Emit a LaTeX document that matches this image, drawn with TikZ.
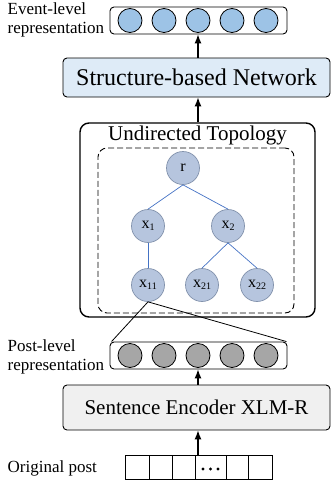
\documentclass[tikz,border=0pt]{standalone}
\usepackage{fontspec}
\setmainfont{Liberation Serif}
\usetikzlibrary{arrows.meta}
\definecolor{evfill}{RGB}{157,195,230}
\definecolor{postfill}{RGB}{166,166,166}
\definecolor{netfill}{RGB}{222,235,247}
\definecolor{encfill}{RGB}{240,240,240}
\definecolor{treefill}{RGB}{182,197,222}
\definecolor{treedraw}{RGB}{130,146,172}
\definecolor{edgeblue}{RGB}{68,114,196}
\tikzset{
  vecbox/.style={draw, rounded corners=4pt, line width=0.9pt},
  evcirc/.style={circle, draw, line width=0.8pt, fill=evfill, minimum size=24pt, inner sep=0pt},
  postcirc/.style={circle, draw, line width=0.8pt, fill=postfill, minimum size=24pt, inner sep=0pt},
  bigbox/.style={draw, rounded corners=4pt, line width=0.9pt, inner sep=0pt},
  treenode/.style={circle, draw=treedraw, line width=0.7pt, fill=treefill, minimum size=33pt, inner sep=0pt, font=\fontsize{16}{16}\selectfont},
  treeedge/.style={draw=edgeblue, line width=0.7pt},
  upar/.style={-{Latex[length=9pt,width=7pt]}, line width=1.1pt},
  lbl/.style={font=\fontsize{17}{19.5}\selectfont, align=left, inner sep=0pt, anchor=west},
  cell/.style={draw, line width=0.8pt}
}
\newcommand{\xsub}[1]{x\raisebox{-2.5pt}{\fontsize{10}{10}\selectfont #1}}
\begin{document}
\begin{tikzpicture}[x=1pt, y=-1pt]
\useasboundingbox (0,0) rectangle (331,485);

% Event-level representation
\node[vecbox, minimum width=177pt, minimum height=27pt, inner sep=0pt] (evbox) at (198.5,20.5) {};
\foreach \i/\xx in {1/130,2/164,3/198,4/232,5/266}
  \node[evcirc] (ev\i) at (\xx,20.5) {};
\node[lbl] (evlbl) at (7.5,20) {Event-level\\representation};

% Structure-based Network
\node[bigbox, fill=netfill, minimum width=267pt, minimum height=39pt, font=\fontsize{24}{24}\selectfont] (net) at (196.5,77.5) {Structure-based Network};
\draw[upar] (net.north -| ev3) -- (evbox.south -| ev3);

% Undirected topology
\node[draw, rounded corners=9pt, line width=1.4pt, minimum width=235pt, minimum height=194pt, inner sep=0pt] (topo) at (197.5,220) {};
\node[font=\fontsize{21}{21}\selectfont, inner sep=0pt] (topotitle) at (197.5,135.5) {Undirected Topology};
\node[draw, dash pattern=on 6pt off 3pt, rounded corners=9pt, line width=0.9pt, minimum width=196pt, minimum height=165pt, inner sep=0pt] (dash) at (196,230.5) {};
\draw[upar] (topo.north -| ev3) -- (net.south -| ev3);

% Tree
\node[treenode] (r) at (183,168) {r};
\node[treenode] (x1) at (148,226) {\xsub{1}};
\node[treenode] (x2) at (228,226) {\xsub{2}};
\node[treenode] (x11) at (148,285) {\xsub{11}};
\node[treenode] (x21) at (202,285) {\xsub{21}};
\node[treenode] (x22) at (257,285) {\xsub{22}};
\draw[treeedge] (r.south) -- (x1.north);
\draw[treeedge] (r.south) -- (x2.north);
\draw[treeedge] (x1.south) -- (x11.north);
\draw[treeedge] (x2.south) -- (x21.north);
\draw[treeedge] (x2.south) -- (x22.north);

% Post-level representation
\node[vecbox, minimum width=177pt, minimum height=27pt, inner sep=0pt] (postbox) at (198.5,355.5) {};
\foreach \i/\xx in {1/130,2/164,3/198,4/232,5/266}
  \node[postcirc] (pc\i) at (\xx,355.5) {};
\node[lbl] (postlbl) at (7.5,357) {Post-level\\representation};
\draw[line width=0.8pt] (x11.south) -- ([xshift=2pt]postbox.north west);
\draw[line width=0.8pt] (x11.south) -- ([xshift=-1pt]postbox.north east);

% Sentence encoder
\node[bigbox, fill=encfill, minimum width=267pt, minimum height=45pt, font=\fontsize{21}{21}\selectfont] (enc) at (196.5,407.5) {Sentence Encoder XLM-R};
\draw[upar] (enc.north -| pc3) -- (postbox.south -| pc3);

% Original post
\node[lbl] (origlbl) at (7.5,468) {Original post};
\coordinate (cellsTL) at (125,455);
\coordinate (cellsBR) at (272,479);
\draw[cell] (cellsTL) rectangle (cellsBR);
\foreach \xx in {149,172,195,226,248}
  \draw[cell] (\xx,455) -- (\xx,479);
\foreach \xx in {203,210.5,218}
  \fill (\xx,469) circle (1.6pt);
\coordinate (cellsTop) at (198,455);
\draw[upar] (cellsTop) -- (enc.south -| cellsTop);
\end{tikzpicture}
\end{document}
